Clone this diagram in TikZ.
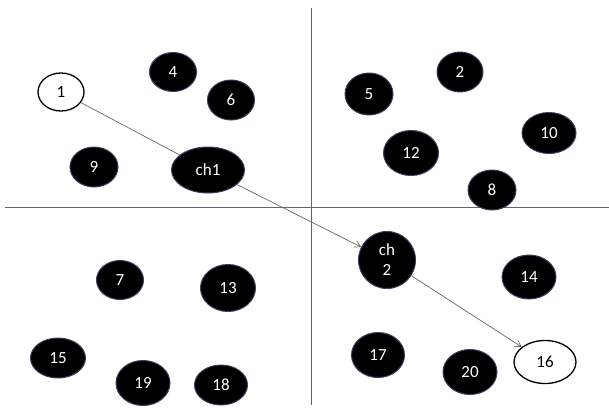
\documentclass[tikz,border=0pt]{standalone}
\usepackage{fontspec}
\setsansfont{Carlito}
\usetikzlibrary{arrows.meta,shapes.geometric}

\tikzset{
  sensor/.style={ellipse, inner sep=0pt, fill=black, draw={rgb,255:red,55;green,65;blue,95}, line width=1pt, text=white, font=\sffamily\fontsize{17}{20}\selectfont},
  endnode/.style={ellipse, inner sep=0pt, fill=white, draw=black, line width=1.3pt, text=black, font=\sffamily\fontsize{17}{20}\selectfont},
  link/.style={draw=black!60, line width=0.7pt},
}

\begin{document}
\begin{tikzpicture}[x=1pt,y=-1pt]
  \useasboundingbox (0,0) rectangle (609,407); % 画像の大きさ
  \coordinate (hl) at (5,207); % 横軸の左端
  \coordinate (hr) at (609,207); % 横軸の右端
  \coordinate (vt) at (311,8); % 縦軸の上端
  \coordinate (vb) at (311,405); % 縦軸の下端
  \draw[black!60, line width=0.8pt] (hl) -- (hr); % 横の区切り線
  \draw[black!60, line width=0.8pt] (vt) -- (vb); % 縦の区切り線
  % 左上の領域
  \node[endnode, minimum width=46pt, minimum height=38pt] (n1) at (61,92) {1};
  \node[sensor, minimum width=47pt, minimum height=39pt] (n4) at (173,72) {4};
  \node[sensor, minimum width=47pt, minimum height=40pt] (n6) at (231,100) {6};
  \node[sensor, minimum width=48pt, minimum height=40pt] (n9) at (94,167) {9};
  \node[sensor, minimum width=73pt, minimum height=46pt] (ch1) at (208,170) {ch1};
  % 右上の領域
  \node[sensor, minimum width=46pt, minimum height=40pt] (n2) at (460,72) {2};
  \node[sensor, minimum width=48pt, minimum height=42pt] (n5) at (369,94) {5};
  \node[sensor, minimum width=55pt, minimum height=45pt] (n12) at (411,153) {12};
  \node[sensor, minimum width=54pt, minimum height=41pt] (n10) at (549,133) {10};
  \node[sensor, minimum width=48pt, minimum height=40pt] (n8) at (492,190) {8};
  % 左下の領域
  \node[sensor, minimum width=47pt, minimum height=39pt] (n7) at (120,280) {7};
  \node[sensor, minimum width=55pt, minimum height=47pt] (n13) at (228,288) {13};
  \node[sensor, minimum width=55pt, minimum height=40pt] (n15) at (58,358) {15};
  \node[sensor, minimum width=54pt, minimum height=45pt] (n19) at (143,383) {19};
  \node[sensor, minimum width=53pt, minimum height=40pt] (n18) at (221,385) {18};
  % 右下の領域
  \node[sensor, minimum width=57pt, minimum height=57pt, align=center] (ch2) at (387,260) {ch\\2};
  \node[sensor, minimum width=54pt, minimum height=44pt] (n14) at (529,277) {14};
  \node[sensor, minimum width=53pt, minimum height=45pt] (n17) at (378,355) {17};
  \node[sensor, minimum width=54pt, minimum height=45pt] (n20) at (470,372) {20};
  \node[endnode, minimum width=62pt, minimum height=43pt] (n16) at (545,362) {16};
  % 経路
  \draw[link] (n1) -- (ch1); % 1からch1へ
  \draw[link, -{Straight Barb[length=6pt,width=7pt]}] (ch1) -- (ch2); % ch1からch2へ
  \draw[link, -{Straight Barb[length=6pt,width=7pt]}] (ch2) -- (n16); % ch2から16へ
\end{tikzpicture}
\end{document}
